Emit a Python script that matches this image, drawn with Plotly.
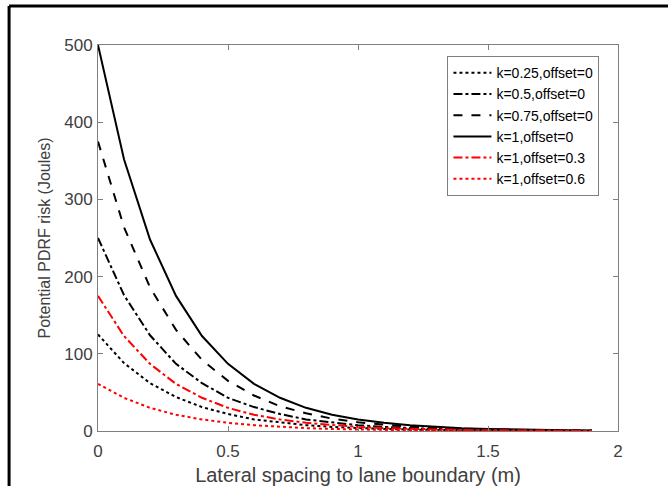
import plotly.graph_objects as go

x_vals = [round(0.1 * i, 1) for i in range(20)]

k025_off0 = [125, 88, 62, 44, 31, 22, 15, 11, 7.6, 5.3, 3.8, 2.6, 1.9, 1.3, 0.9, 0.7, 0.5, 0.3, 0.2, 0.2]
k05_off0 = [250, 176, 124, 87, 62, 43, 31, 22, 15, 11, 7.5, 5.3, 3.7, 2.6, 1.9, 1.3, 0.9, 0.7, 0.5, 0.3]
k075_off0 = [375, 264, 186, 131, 92, 65, 46, 32, 23, 16, 11.3, 8, 5.6, 4, 2.8, 2, 1.4, 1, 0.7, 0.5]
k1_off0 = [500, 352, 248, 175, 123, 87, 61, 43, 30, 21, 15, 10.6, 7.5, 5.3, 3.7, 2.6, 1.8, 1.3, 0.9, 0.6]
k1_off03 = [175, 123, 87, 61, 43, 30, 21, 15, 10.6, 7.5, 5.3, 3.7, 2.6, 1.8, 1.3, 0.9, 0.6, 0.5, 0.3, 0.2]
k1_off06 = [61, 43, 30, 21, 15, 10.6, 7.5, 5.3, 3.7, 2.6, 1.8, 1.3, 0.9, 0.6, 0.5, 0.3, 0.2, 0.2, 0.1, 0.1]

series = [
    ("k=0.25,offset=0", k025_off0, "black", "dot"),
    ("k=0.5,offset=0", k05_off0, "black", "dashdot"),
    ("k=0.75,offset=0", k075_off0, "black", "dash"),
    ("k=1,offset=0", k1_off0, "black", "solid"),
    ("k=1,offset=0.3", k1_off03, "red", "dashdot"),
    ("k=1,offset=0.6", k1_off06, "red", "dot"),
]

fig = go.Figure()
for name, ys, color, dash in series:
    fig.add_trace(go.Scatter(x=x_vals, y=ys, mode="lines", name=name,
                             line=dict(color=color, dash=dash, width=2)))

axis_common = dict(showline=True, linecolor="#7f7f7f", linewidth=1, mirror="ticks",
                   ticks="inside", ticklen=5, tickcolor="#7f7f7f", showgrid=False,
                   zeroline=False, automargin=False,
                   tickfont=dict(size=17, color="#404040", family="Liberation Sans"))

fig.update_layout(
    width=668, height=486,
    margin=dict(l=98, r=50, t=45, b=55),
    paper_bgcolor="white", plot_bgcolor="white",
    font=dict(family="Liberation Sans", color="#404040"),
    xaxis=dict(range=[0, 2], tickvals=[0, 0.5, 1, 1.5, 2], ticktext=["0", "0.5", "1", "1.5", "2"],
               ticklabelstandoff=5,
               title=dict(text="Lateral spacing to lane boundary (m)", font=dict(size=20), standoff=8),
               **axis_common),
    yaxis=dict(range=[0, 500], tickvals=[0, 100, 200, 300, 400, 500],
               ticklabelstandoff=1,
               title=dict(text="Potential PDRF risk (Joules)", font=dict(size=16), standoff=9),
               **axis_common),
    legend=dict(x=0.672, y=0.971, xanchor="left", yanchor="top",
                bgcolor="white", bordercolor="#7f7f7f", borderwidth=1,
                font=dict(size=14, color="black", family="Liberation Sans"),
                tracegroupgap=0, itemwidth=38),
    showlegend=True,
    shapes=[
        dict(type="line", xref="paper", yref="paper", x0=-0.171, x1=1.3, y0=1.101, y1=1.101,
             line=dict(color="black", width=3)),
        dict(type="line", xref="paper", yref="paper", x0=-0.171, x1=-0.171, y0=1.101, y1=-0.3,
             line=dict(color="black", width=3)),
    ],
)

fig.write_html("out.html")
